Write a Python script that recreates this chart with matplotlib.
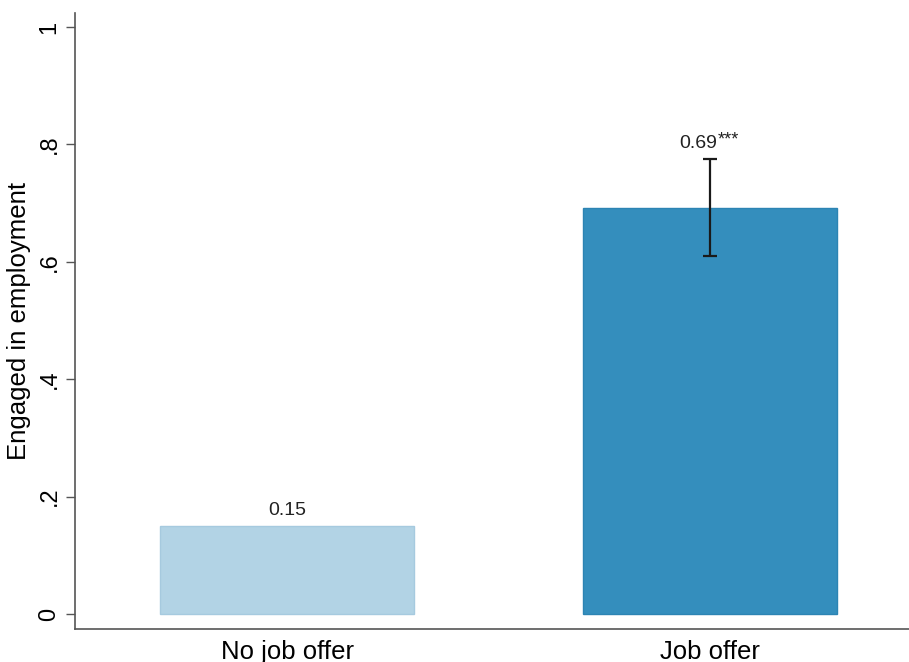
import numpy as np
import matplotlib.pyplot as plt

plt.rcParams['font.family'] = ['Liberation Sans', 'DejaVu Sans']

# Share engaged in employment by offer status
groups = ['No job offer', 'Job offer']
means = [0.15, 0.692]
ci_low = [np.nan, 0.61]
ci_high = [np.nan, 0.775]
value_labels = ['0.15', '0.69']
stars = ['', '***']
colors = ['#b2d3e5', '#348ebd']
edges = ['#a6cadf', '#2c84b3']

fig = plt.figure(figsize=(9.09, 6.62), dpi=100)
ax = fig.add_axes([75 / 909, 33 / 662, 834 / 909, 616 / 662])

x = np.arange(len(groups))
ax.bar(x, means, width=0.601, color=colors, edgecolor=edges, linewidth=1)

# confidence interval on the treated group only
for xi, m, lo, hi in zip(x, means, ci_low, ci_high):
    if np.isnan(lo):
        continue
    ax.errorbar(xi, m, yerr=[[m - lo], [hi - m]], fmt='none',
                ecolor='#1a1a1a', elinewidth=1.6, capsize=5, capthick=1.6)

for xi, m, hi, lab, st in zip(x, means, ci_high, value_labels, stars):
    top = m if np.isnan(hi) else hi
    if st:
        ax.annotate(lab, (xi, top), xytext=(5.5, 5), textcoords='offset points',
                    ha='right', va='bottom', fontsize=14, color='#222222')
        ax.annotate(st, (xi, top), xytext=(5.5, 8), textcoords='offset points',
                    ha='left', va='bottom', fontsize=13, color='#222222')
    else:
        ax.annotate(lab, (xi, top), xytext=(0, 5), textcoords='offset points',
                    ha='center', va='bottom', fontsize=14, color='#222222')

ax.set_xlim(-0.502, 1.472)
ax.set_ylim(-0.0256, 1.024)
ax.set_yticks([0, 0.2, 0.4, 0.6, 0.8, 1])
ax.set_yticklabels(['0', '.2', '.4', '.6', '.8', '1'], rotation=90, va='center')
ax.set_xticks(x)
ax.set_xticklabels(groups)
ax.tick_params(axis='y', length=6.5, width=1, color='#555555', labelsize=17, pad=4)
ax.tick_params(axis='x', length=0, labelsize=18.5, pad=8)
ax.set_ylabel('Engaged in employment', fontsize=18.5, labelpad=5)

for s in ['top', 'right']:
    ax.spines[s].set_visible(False)
for s in ['left', 'bottom']:
    ax.spines[s].set_color('#555555')
    ax.spines[s].set_linewidth(1.2)

fig.savefig('out.png', dpi=100)
